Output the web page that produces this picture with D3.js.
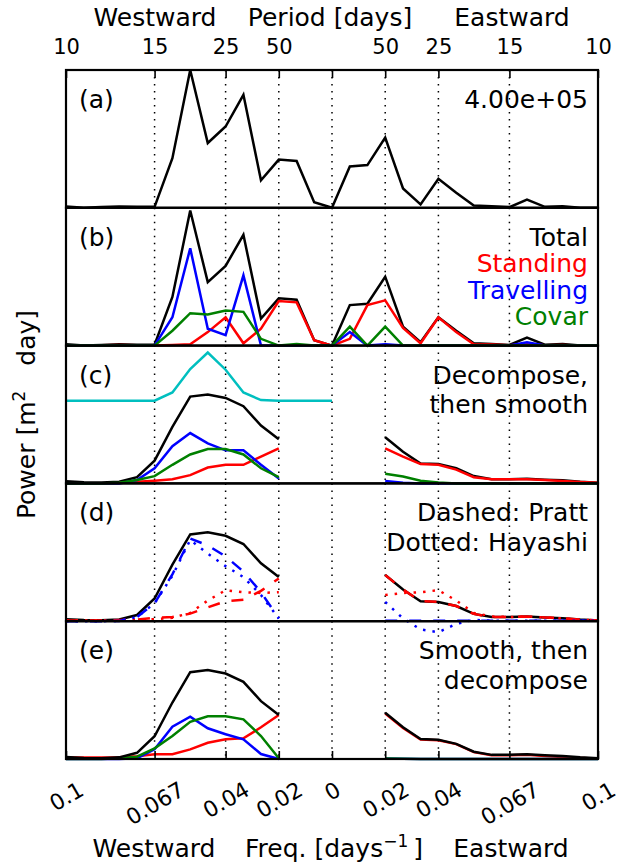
<!DOCTYPE html>
<html>
<head>
<meta charset="utf-8">
<script src="https://cdn.jsdelivr.net/npm/d3@7"></script>
<style>
  body { margin: 0; background: #fff; }
  text { font-family: "DejaVu Sans", sans-serif; fill: #000; }
</style>
</head>
<body>
<svg id="chart" width="630" height="865"></svg>
<script>
// frequency grid [days^-1], negative = westward
const freq = [-0.1, -0.0933, -0.0867, -0.08, -0.0733, -0.0667, -0.06, -0.0533, -0.0467, -0.04,
  -0.0333, -0.0267, -0.02, -0.0133, -0.0067, 0, 0.0067, 0.0133, 0.02, 0.0267,
  0.0333, 0.04, 0.0467, 0.0533, 0.06, 0.0667, 0.0733, 0.08, 0.0867, 0.0933, 0.1];

// tick positions and labels
const tickFreqs = [-0.1, -0.0667, -0.04, -0.02, 0, 0.02, 0.04, 0.0667, 0.1];
const freqLabels = ["0.1", "0.067", "0.04", "0.02", "0", "0.02", "0.04", "0.067", "0.1"];
const periodLabels = ["10", "15", "25", "50", "", "50", "25", "15", "10"];
const gridFreqs = [-0.0667, -0.04, -0.02, 0, 0.02, 0.04, 0.0667];

// (a),(b) raw spectra, normalised to the peak (4.00e+05)
const total = [0.01, 0.0, 0.005, 0.01, 0.007, 0.007, 0.36, 1.0, 0.47, 0.59,
  0.82, 0.20, 0.35, 0.34, 0.04, 0.0, 0.30, 0.31, 0.51, 0.14,
  0.025, 0.21, 0.11, 0.017, 0.012, 0.005, 0.06, 0.007, 0.012, 0.0, 0.0];
const standing = [0.003, 0.0, 0.002, 0.004, 0.002, 0.0, 0.005, 0.01, 0.10, 0.21,
  0.017, 0.125, 0.33, 0.32, 0.04, 0.0, 0.05, 0.30, 0.335, 0.13,
  0.017, 0.21, 0.10, 0.01, 0.008, 0.003, 0.01, 0.003, 0.005, 0.0, 0.0];
const travelling = [0, 0, 0, 0, 0, 0, 0.21, 0.72, 0.125, 0.077,
  0.52, 0, 0, 0, 0, 0, 0.10, 0, 0.01, 0,
  0, 0, 0, 0, 0, 0, 0.025, 0, 0, 0, 0];
const covar = [0, 0, 0, 0, 0, 0, 0.11, 0.24, 0.23, 0.26,
  0.25, 0.05, 0, 0.012, 0, 0, 0.14, 0, 0.14, 0,
  0, 0, 0, 0, 0, 0, 0, 0, 0, 0, 0];

// (c) decompose, then smooth
const smTotal = [0.015, 0.008, 0.006, 0.012, 0.045, 0.165, 0.41, 0.63, 0.645, 0.62,
  0.56, 0.42, 0.32, null, null, null, null, null, 0.335, 0.23,
  0.145, 0.14, 0.11, 0.053, 0.03, 0.03, 0.034, 0.027, 0.022, 0.012, 0.005];
const smStanding = [0, 0, 0, 0.003, 0.012, 0.02, 0.03, 0.06, 0.115, 0.135,
  0.135, 0.195, 0.255, null, null, null, null, null, 0.255, 0.195,
  0.14, 0.135, 0.10, 0.045, 0.03, 0.03, 0.03, 0.025, 0.017, 0.01, 0.005];
const smTravelling = [0, 0, 0, 0, 0.025, 0.11, 0.27, 0.365, 0.29, 0.24,
  0.24, 0.135, 0.035, null, null, null, null, null, 0.017, 0.005,
  0, 0, 0, 0, 0, 0, 0, 0, 0, 0, 0];
const smCovar = [0, 0, 0, 0.005, 0.025, 0.053, 0.135, 0.21, 0.25, 0.25,
  0.21, 0.11, 0.045, null, null, null, null, null, 0.07, 0.05,
  0.02, 0.007, 0, 0, 0, 0, 0, 0, 0, 0, 0];
const smWindow = [0.60, 0.60, 0.60, 0.60, 0.60, 0.60, 0.66, 0.83, 0.95, 0.825,
  0.66, 0.605, 0.60, 0.60, 0.60, 0.60, null, null, null, null,
  null, null, null, null, null, null, null, null, null, null, null];

// (d) Pratt (dashed) and Hayashi (dotted)
const prattStanding = [0.005, 0.005, 0.005, 0.008, 0.012, 0.025, 0.03, 0.055, 0.10, 0.145,
  0.155, 0.22, 0.31, null, null, null, null, null, 0.335, 0.23,
  0.145, 0.14, 0.11, 0.053, 0.03, 0.03, 0.034, 0.027, 0.022, 0.012, 0.005];
const prattTravelling = [0, 0, 0, 0.002, 0.03, 0.13, 0.34, 0.60, 0.55, 0.47,
  0.36, 0.21, 0.02, null, null, null, null, null, 0.003, 0.003,
  0.003, 0.003, 0.003, 0.003, 0.003, 0.003, 0.003, 0.003, 0.003, 0.003, 0.003];
const hayStanding = [0.005, 0.005, 0.005, 0.008, 0.01, 0.015, 0.025, 0.06, 0.15, 0.225,
  0.21, 0.205, 0.21, null, null, null, null, null, 0.19, 0.205,
  0.21, 0.225, 0.15, 0.06, 0.035, 0.03, 0.035, 0.027, 0.02, 0.012, 0.005];
const hayTravelling = [0, 0, 0, 0.002, 0.03, 0.13, 0.33, 0.59, 0.49, 0.40,
  0.32, 0.19, 0.02, null, null, null, null, null, 0.14, 0.02,
  -0.06, -0.08, -0.02, 0.01, 0.003, 0.003, 0.003, 0.003, 0.003, 0.003, 0.003];

// (e) smooth, then decompose
const sdStanding = [0.01, 0.01, 0.01, 0.012, 0.02, 0.034, 0.034, 0.07, 0.118, 0.143,
  0.15, 0.23, 0.32, null, null, null, null, null, 0.33, 0.225,
  0.142, 0.136, 0.108, 0.05, 0.028, 0.028, 0.031, 0.022, 0.015, 0.008, 0.003];
const sdTravelling = [0, 0, 0, 0, 0.005, 0.07, 0.235, 0.307, 0.223, 0.18,
  0.143, 0.036, 0, null, null, null, null, null, 0.004, 0.002,
  0, 0, 0, 0, 0, 0, 0, 0, 0, 0, 0];
const sdCovar = [0, 0, 0, 0.005, 0.017, 0.077, 0.167, 0.27, 0.31, 0.31,
  0.288, 0.167, 0.005, null, null, null, null, null, 0.003, 0.002,
  0, 0, 0, 0, 0, 0, 0, 0, 0, 0, 0];

// colours (matplotlib classic)
const K = "#000000", R = "#ff0000", B = "#0000ff", G = "#008000", C = "#00bfbf";

const panels = [
  { label: "(a)", ymax: 1.0, notes: [["4.00e+05", K]],
    lines: [[total, K]] },
  { label: "(b)", ymax: 1.02, notes: [["Total", K], ["Standing", R], ["Travelling", B], ["Covar", G]],
    lines: [[total, K], [standing, R], [travelling, B], [covar, G]] },
  { label: "(c)", ymax: 1.0, notes: [["Decompose,", K], ["then smooth", K]],
    lines: [[smWindow, C], [smTotal, K], [smStanding, R], [smTravelling, B], [smCovar, G]] },
  { label: "(d)", ymax: 1.0, notes: [["Dashed: Pratt", K], ["Dotted: Hayashi", K]],
    lines: [[smTotal, K], [prattStanding, R, "12,12"], [prattTravelling, B, "12,12"],
            [hayStanding, R, "2.5,7"], [hayTravelling, B, "2.5,7"]] },
  { label: "(e)", ymax: 1.0, notes: [["Smooth, then", K], ["decompose", K]],
    lines: [[sdStanding, R], [sdTravelling, B], [sdCovar, G], [smTotal, K]] }
];

const svg = d3.select("#chart");
const plotLeft = 66, plotRight = 598, plotTop = 70, plotBottom = 759;
const panelH = (plotBottom - plotTop) / panels.length;

const x = d3.scaleLinear().domain([-0.1, 0.1]).range([plotLeft, plotRight]);

panels.forEach(function (p, i) {
  const y0 = plotTop + i * panelH;
  const y = d3.scaleLinear().domain([0, p.ymax]).range([y0 + panelH, y0]);
  const g = svg.append("g");

  // dotted reference lines
  g.selectAll(".grid")
    .data(gridFreqs)
    .enter()
    .append("line")
    .attr("x1", d => x(d)).attr("x2", d => x(d))
    .attr("y1", y0).attr("y2", y0 + panelH)
    .attr("stroke", "#000")
    .attr("stroke-width", 1.5)
    .attr("stroke-dasharray", "1.5,5.5");

  const line = d3.line()
    .defined(d => d[1] != null)
    .x(d => x(d[0]))
    .y(d => y(d[1]));

  p.lines.forEach(function (s) {
    g.append("path")
      .datum(freq.map((f, j) => [f, s[0][j]]))
      .attr("d", line)
      .attr("fill", "none")
      .attr("stroke", s[1])
      .attr("stroke-width", 2.5)
      .attr("stroke-linejoin", "miter")
      .attr("stroke-dasharray", s[2] || null);
  });

  // panel letter
  g.append("text")
    .attr("x", plotLeft + 13).attr("y", y0 + 38)
    .style("font-size", "25px")
    .text(p.label);

  // notes at the right
  const step = p.notes.length > 2 ? 26.5 : 29.5;
  p.notes.forEach(function (n, j) {
    g.append("text")
      .attr("x", plotRight - 10)
      .attr("y", y0 + 38 + j * step)
      .attr("text-anchor", "end")
      .style("font-size", "25px")
      .style("fill", n[1])
      .text(n[0]);
  });

  // frame
  g.append("rect")
    .attr("x", plotLeft).attr("y", y0)
    .attr("width", plotRight - plotLeft).attr("height", panelH)
    .attr("fill", "none")
    .attr("stroke", "#000")
    .attr("stroke-width", 2.2);
});

// top axis: period
const topAxis = d3.axisTop(x)
  .tickValues(tickFreqs)
  .tickFormat((d, i) => periodLabels[i])
  .tickSizeInner(-8).tickSizeOuter(0).tickPadding(16);
const gTop = svg.append("g").attr("transform", `translate(0,${plotTop})`).call(topAxis);
gTop.select(".domain").remove();
gTop.selectAll("line").attr("stroke-width", 1.6);
gTop.selectAll("text").style("font-size", "21px").attr("font-family", null);

// bottom axis: frequency, labels rotated
const botAxis = d3.axisBottom(x)
  .tickValues(tickFreqs)
  .tickFormat((d, i) => freqLabels[i])
  .tickSizeInner(-8).tickSizeOuter(0);
const gBot = svg.append("g").attr("transform", `translate(0,${plotBottom})`).call(botAxis);
gBot.select(".domain").remove();
gBot.selectAll("line").attr("stroke-width", 1.6);
gBot.selectAll("text")
  .style("font-size", "22px")
  .attr("font-family", null)
  .attr("text-anchor", "middle")
  .each(function () {
    const w = this.getComputedTextLength();
    const cy = 19 + (w * 0.5 + 22 * 0.866) / 2;
    d3.select(this)
      .attr("y", cy).attr("dy", "0.35em")
      .attr("transform", `rotate(-30,0,${cy})`);
  });

// axis titles
const titles = [
  ["Westward", 155, 26], ["Period [days]", 330, 26], ["Eastward", 512, 26],
  ["Westward", 154, 857], ["Eastward", 511, 857]
];
titles.forEach(function (t) {
  svg.append("text")
    .attr("x", t[1]).attr("y", t[2])
    .attr("text-anchor", "middle")
    .style("font-size", "25px")
    .text(t[0]);
});

const freqTitle = svg.append("text")
  .attr("x", 334).attr("y", 857)
  .attr("text-anchor", "middle")
  .style("font-size", "25px");
freqTitle.append("tspan").text("Freq. [days");
freqTitle.append("tspan").attr("dy", -10).style("font-size", "17px").text("\u22121");
freqTitle.append("tspan").attr("dy", 10).text("\u2009]");

const ylab = svg.append("text")
  .attr("transform", `translate(35,${(plotTop + plotBottom) / 2}) rotate(-90)`)
  .attr("text-anchor", "middle")
  .style("font-size", "25px");
ylab.append("tspan").text("Power [m");
ylab.append("tspan").attr("dy", -10).style("font-size", "17px").text("2");
ylab.append("tspan").attr("dy", 10).text("\u2003day]");
</script>
</body>
</html>
